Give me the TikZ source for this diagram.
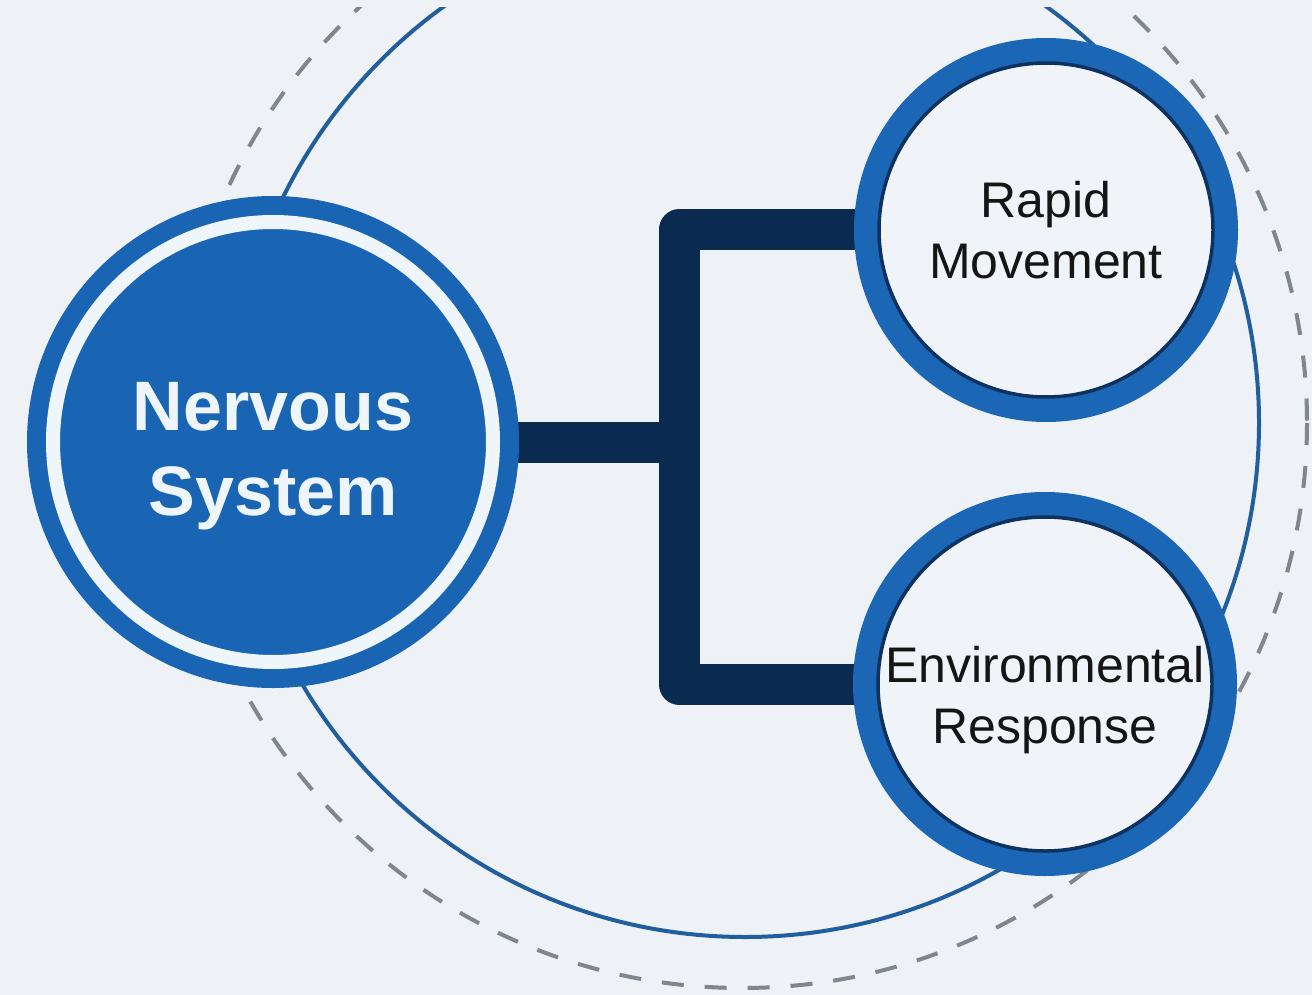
\documentclass[tikz,border=0pt]{standalone}
\usepackage{fontspec}
\setmainfont{Liberation Sans}

\pgfdeclarelayer{back}
\pgfsetlayers{back,main}

\definecolor{paper}{HTML}{EEF2F6}
\definecolor{hubblue}{HTML}{1A64B4}
\definecolor{ringblue}{HTML}{1C66B6}
\definecolor{navy}{HTML}{0B2A50}
\definecolor{inkline}{HTML}{0E3260}
\definecolor{orbit}{HTML}{215E9E}
\definecolor{dashgray}{HTML}{80868E}
\definecolor{hubtext}{HTML}{EEF6FC}
\definecolor{leaftext}{HTML}{151515}
\definecolor{leaffill}{HTML}{F0F3F7}

\begin{document}
\begin{tikzpicture}[x=1pt,y=-1pt,
  hub/.style={circle, fill=hubblue, minimum size=492pt, inner sep=0pt},
  hubring/.style={draw=hubtext, line width=14pt},
  leaf/.style={circle, draw=ringblue, line width=25pt, fill=leaffill,
               minimum size=359pt, inner sep=0pt},
  leafedge/.style={draw=inkline, line width=3.5pt},
  hublabel/.style={text=hubtext, font=\bfseries\fontsize{70}{85}\selectfont,
                   align=center, inner sep=0pt},
  leaflabel/.style={text=leaftext, font=\fontsize{50}{61}\selectfont,
                    align=center, inner sep=0pt},
  bar/.style={draw=navy, line width=41pt, line join=round},
  orbitline/.style={draw=orbit, line width=4pt},
  dashring/.style={draw=dashgray, line width=4pt, dash pattern=on 22pt off 21pt},
]
\useasboundingbox (0,0) rectangle (1312,995);

% central hub
\node[hub, label={[hublabel, yshift=-14pt]center:{Nervous\\System}}] (nerv) at (273,442) {};
\draw[hubring] (nerv.center) circle[radius=220];

% outcome circles
\node[leaf, label={[leaflabel]center:{Rapid\\Movement}}] (rapid) at (1046,230) {};
\draw[leafedge] (rapid.center) circle[radius=167];

\node[leaf, label={[leaflabel, yshift=-16pt]center:{Environmental\\Response}}] (env) at (1045,684) {};
\draw[leafedge] (env.center) circle[radius=167];

\begin{pgfonlayer}{back}
  \fill[paper] (0,0) rectangle (1312,995);
  % orbit rings
  \begin{scope}
    \clip (0,8) rectangle (1312,995);
    \draw[dashring] (742,423) circle[radius=565];
    \draw[orbitline] (745,423) circle[radius=514];
  \end{scope}
  % bracket connector
  \coordinate (spine) at (679,442);
  \draw[bar] (rapid.center) -| (spine) |- (env.center);
  \draw[bar] (nerv.center) -- (spine);
\end{pgfonlayer}
\end{tikzpicture}
\end{document}
